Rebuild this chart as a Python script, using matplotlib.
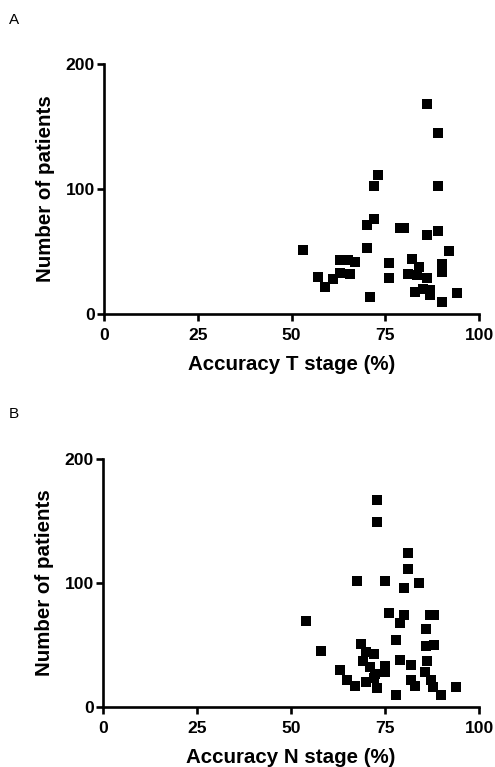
import matplotlib
matplotlib.use("Agg")
import matplotlib.pyplot as plt

# Panel A: accuracy T stage vs number of patients
t_accuracy = [86, 89, 73, 72, 89, 72, 70, 79, 80, 86, 89, 53, 70, 92, 63, 65, 67, 76, 82, 84,
              90, 90, 57, 59, 61, 63, 65.5, 76, 81, 83.5, 86, 83, 85, 87, 87, 90, 94, 71]
t_patients = [168, 145, 111, 102, 102, 76, 71, 69, 69, 63, 66, 51, 53, 50, 43, 43, 42, 41, 44, 38,
              40, 34, 30, 22, 28, 33, 32, 29, 32, 31, 29, 18, 20, 19, 15, 10, 17, 14]

# Panel B: accuracy N stage vs number of patients
n_accuracy = [73, 73, 81, 81, 67.6, 75, 80, 84, 54, 76, 80, 79, 87, 88, 86, 78, 86, 88, 58, 68.6,
              70, 72, 69.2, 71, 72.3, 75, 75, 79, 82, 86.2, 85.6, 63, 65, 67, 70, 72.8, 72, 78, 82,
              83, 87.2, 87.8, 90, 94]
n_patients = [167, 149, 124, 111, 102, 102, 96, 100, 69, 76, 74, 68, 74, 74, 63, 54, 49, 50, 45, 51,
              44, 43, 37, 32, 27, 33, 28, 38, 34, 37, 28.5, 30, 22, 17, 20, 15, 23, 10, 22,
              17, 22, 16, 10, 16]

x_ticks = [0, 25, 50, 75, 100]
y_ticks = [0, 100, 200]

plt.rcParams['font.family'] = ['Liberation Sans', 'DejaVu Sans']

W, H = 495, 767
fig = plt.figure(figsize=(W / 100, H / 100), dpi=100)


def make_panel(rect, xs, ys, xlabel, letter, letter_y):
    ax = fig.add_axes(rect)
    ax.plot(xs, ys, linestyle='none', marker='s', markersize=7.8, color='black',
            markeredgewidth=0, clip_on=False)
    ax.set_xlim(0, 100)
    ax.set_ylim(0, 200)
    ax.set_xticks(x_ticks)
    ax.set_yticks(y_ticks)
    for s in ['top', 'right']:
        ax.spines[s].set_visible(False)
    for s in ['left', 'bottom']:
        ax.spines[s].set_linewidth(1.9)
    ax.tick_params(axis='both', direction='out', length=5, width=1.9, labelsize=12.6)
    ax.tick_params(axis='x', pad=5)
    ax.tick_params(axis='y', pad=1.5)
    for lab in ax.get_xticklabels() + ax.get_yticklabels():
        lab.set_fontweight('bold')
    ax.set_xlabel(xlabel, fontsize=14.8, fontweight='bold', labelpad=8.5)
    ax.set_ylabel('Number of patients', fontsize=14.8, fontweight='bold', labelpad=8)
    fig.text(14 / W, 1 - letter_y / H, letter, fontsize=11, ha='center', va='center')
    return ax


def rect(x0, x1, ytop, ybot):
    return [x0 / W, 1 - ybot / H, (x1 - x0) / W, (ybot - ytop) / H]


make_panel(rect(104, 479, 64, 314), t_accuracy, t_patients, 'Accuracy T stage (%)', 'A', 19.5)
make_panel(rect(103, 479, 459, 707), n_accuracy, n_patients, 'Accuracy N stage (%)', 'B', 414)

fig.savefig('out.png', dpi=100)
